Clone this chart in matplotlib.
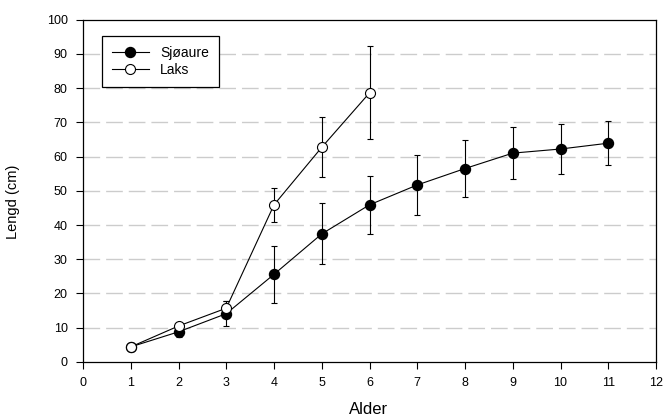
import numpy as np
import matplotlib.pyplot as plt

plt.rcParams['font.family'] = ['Liberation Sans', 'DejaVu Sans']

# data
alder_sjo = [1, 2, 3, 4, 5, 6, 7, 8, 9, 10, 11]
lengd_sjo = [4.4, 8.8, 14.1, 25.6, 37.4, 45.9, 51.7, 56.5, 61.0, 62.2, 63.9]
sd_sjo = [0.5, 1.5, 3.7, 8.4, 8.9, 8.4, 8.7, 8.2, 7.6, 7.4, 6.5]

alder_laks = [1, 2, 3, 4, 5, 6]
lengd_laks = [4.4, 10.5, 15.7, 45.9, 62.7, 78.6]
sd_laks = [0.5, 0.8, 2.1, 5.0, 8.8, 13.6]

xticks = list(range(0, 13))
yticks = list(range(0, 101, 10))

fig = plt.figure(figsize=(6.64, 4.17), dpi=100)
ax = fig.add_axes([0.125, 0.132, 0.863, 0.821])

# dashed grid lines
for y in yticks[1:-1]:
    ax.axhline(y, color='#cccccc', lw=1.0, dashes=(12, 4.3), zorder=0)

ax.errorbar(alder_sjo, lengd_sjo, yerr=sd_sjo, color='black', lw=0.8,
            elinewidth=0.8, capsize=2.5, capthick=0.8, marker='o',
            markersize=7.2, markerfacecolor='black', markeredgecolor='black',
            label='Sjøaure', zorder=3)
ax.errorbar(alder_laks, lengd_laks, yerr=sd_laks, color='black', lw=0.8,
            elinewidth=0.8, capsize=2.5, capthick=0.8, marker='o',
            markersize=7.2, markerfacecolor='white', markeredgecolor='black',
            markeredgewidth=0.8, label='Laks', zorder=4)

ax.set_xlim(0, 12)
ax.set_ylim(0, 100)
ax.set_xticks(xticks)
ax.set_yticks(yticks)
ax.tick_params(direction='out', length=5, width=0.8, labelsize=9, pad=6)
for s in ax.spines.values():
    s.set_linewidth(0.9)

ax.set_xlabel('Alder', fontsize=12, va='center')
ax.xaxis.set_label_coords(0.499, -0.14)
ax.set_ylabel('Lengd (cm)', fontsize=10.5, va='center')
ax.yaxis.set_label_coords(-0.122, 0.467)

handles, labels = ax.get_legend_handles_labels()
handles = [h[0] for h in handles]
leg = ax.legend(handles, labels, loc='upper left', bbox_to_anchor=(0.033, 0.952),
                borderaxespad=0, fontsize=10, frameon=True, fancybox=False,
                edgecolor='black', framealpha=1, handlelength=2.7,
                handletextpad=0.8, labelspacing=0.25, borderpad=0.7)
leg.get_frame().set_linewidth(0.9)

fig.savefig('out.png', dpi=100)
